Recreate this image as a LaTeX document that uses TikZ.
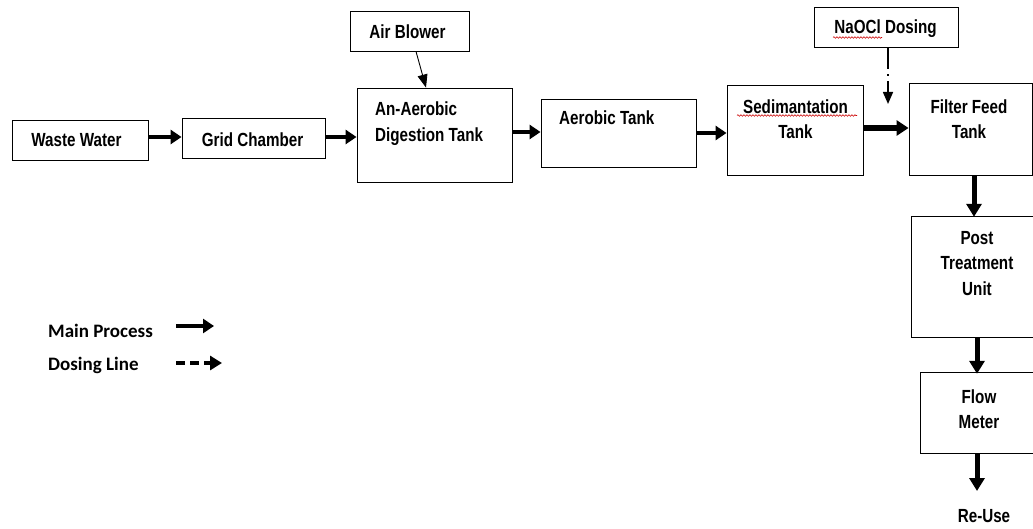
\documentclass[tikz,border=0pt]{standalone}
\usepackage{fontspec}
\usetikzlibrary{arrows.meta,decorations.pathmorphing}
\newfontfamily\boxfont[FakeStretch=0.8]{Liberation Sans}
\newfontfamily\legfont{Carlito}
\begin{document}
\begin{tikzpicture}[x=1pt,y=-1pt,
  box/.style={draw, line width=0.9pt, inner sep=0, minimum width=#1},
  boxtext/.style={inner sep=0, align=center, font=\boxfont\bfseries\fontsize{19}{25.5}\selectfont},
  legtext/.style={inner sep=0, font=\legfont\bfseries\fontsize{19}{22}\selectfont},
  mainarrow/.style={line width=4.5pt, -{Triangle[length=11pt,width=14pt]}},
  bigarrow/.style={line width=5.5pt, -{Triangle[length=12pt,width=15pt]}},
  downarrow/.style={line width=5pt, -{Triangle[length=13pt,width=15pt]}},
  thinarrow/.style={line width=0.9pt, -{Triangle[length=13pt,width=10pt]}},
  dosearrow/.style={line width=1.6pt, dash pattern=on 22pt off 5pt on 2pt off 5pt, -{Triangle[length=12pt,width=10pt]}},
  legdose/.style={line width=4pt, dash pattern=on 9pt off 5pt, -{Triangle[length=12pt,width=14pt]}},
  spell/.style={draw=red!80!black, line width=0.6pt, decorate, decoration={snake, amplitude=0.8pt, segment length=3pt}}
]
\useasboundingbox[fill=white] (0,0) rectangle (1033,529);

% boxes
\node[box=136pt, minimum height=40pt] (ww) at (80,140) {};
\node[box=143pt, minimum height=40pt] (gc) at (253.5,138) {};
\node[box=119pt, minimum height=40pt] (ab) at (409.5,31) {};
\node[box=155pt, minimum height=94pt] (aa) at (434.5,135) {};
\node[box=155pt, minimum height=68pt] (ae) at (618.5,133) {};
\node[box=136pt, minimum height=90pt] (sed) at (795,130) {};
\node[box=144pt, minimum height=40pt] (na) at (886,27) {};
\node[box=123pt, minimum height=92pt] (ff) at (970.5,129) {};
% open boxes cut by the right edge
\node[inner sep=0, minimum width=121pt, minimum height=120pt] (ptu) at (972.5,277) {};
\draw[line width=0.9pt] (ptu.north east) -- (ptu.north west) -- (ptu.south west) -- (ptu.south east);
\node[inner sep=0, minimum width=112pt, minimum height=80pt] (fm) at (977,413) {};
\draw[line width=0.9pt] (fm.north east) -- (fm.north west) -- (fm.south west) -- (fm.south east);

% texts
\node[boxtext] (tww) at (76.5,140) {Waste Water};
\node[boxtext] (tgc) at (252.5,140) {Grid Chamber};
\node[boxtext] (tab) at (407.5,32) {Air Blower};
\node[boxtext, anchor=west, align=left] (taa) at (375,123.5) {An-Aerobic\\Digestion Tank};
\node[boxtext, anchor=west] (tae) at (559,118) {Aerobic Tank};
\node[boxtext] (tsed) at (795.5,119) {Sedimantation\\Tank};
\node[boxtext] (tna) at (885.5,28.5) {NaOCl Dosing};
\node[boxtext] (tff) at (969,119) {Filter Feed\\Tank};
\node[boxtext] (tptu) at (977,263.5) {Post\\Treatment\\Unit};
\node[boxtext] (tfm) at (979,409) {Flow\\Meter};
\node[boxtext] (reuse) at (984,516) {Re-Use};

% spell-check marks
\draw[spell] (737,115.5) -- (857,115.5);
\draw[spell] (833,37.5) -- (882,37.5);

% main connectors
\draw[mainarrow] (ww.east |- 0,137) -- (gc.west |- 0,137);
\draw[mainarrow, shorten <=1pt] (gc.east |- 0,137) -- (aa.west |- 0,137);
\draw[mainarrow] (aa.east |- 0,132) -- (ae.west |- 0,132);
\draw[mainarrow, shorten <=1pt] (ae.east |- 0,133) -- (sed.west |- 0,133);
\draw[bigarrow] (sed.east |- 0,128) -- (ff.west |- 0,128);
\draw[downarrow] (ff.south -| 974,0) -- (ptu.north -| 974,0);
\draw[downarrow] (ptu.south -| 977,0) -- ([yshift=-1pt]fm.north -| 977,0);
\draw[downarrow] (fm.south -| 977,0) -- (977,491);

% air blower and dosing
\draw[thinarrow] (ab.south -| 416,0) -- (aa.north -| 426,0);
\draw[dosearrow] (na.south -| 888,0) -- (888,104);

% legend
\node[legtext, anchor=base west] (lmain) at (48,337) {Main Process};
\node[legtext, anchor=base west] (ldose) at (48,370) {Dosing Line};
\coordinate (lm1) at (176,326);
\coordinate (lm2) at (214,326);
\coordinate (ld1) at (176,363);
\coordinate (ld2) at (222,363);
\draw[line width=4.5pt, -{Triangle[length=11pt,width=14pt]}] (lm1) -- (lm2);
\draw[legdose] (ld1) -- (ld2);
\end{tikzpicture}
\end{document}
